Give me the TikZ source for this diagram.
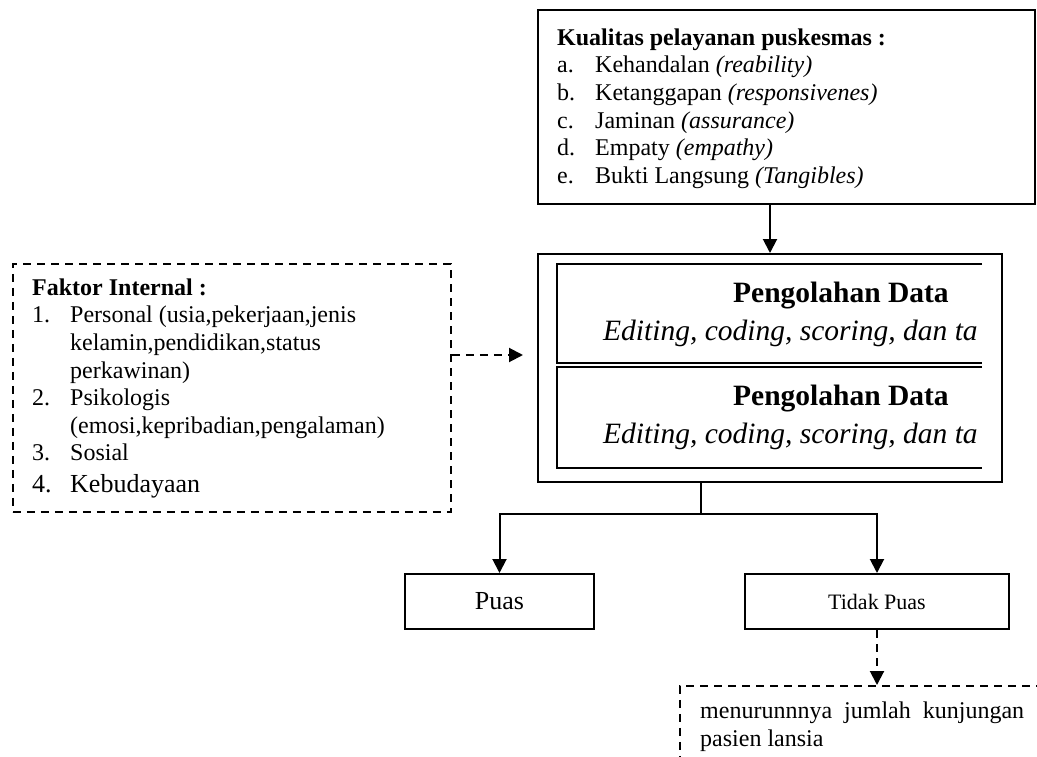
\documentclass[tikz,border=0pt]{standalone}
\usepackage{fontspec}
\setmainfont{Liberation Serif}
\usetikzlibrary{arrows.meta,calc}
\tikzset{
  boxsolid/.style={draw, line width=2pt, rectangle, inner sep=0pt},
  boxdash/.style={draw, line width=1.8pt, dash pattern=on 8pt off 6pt, rectangle, inner sep=0pt},
  inbox/.style={line width=1.3pt},
  conn/.style={line width=2pt, -{Triangle[length=14pt,width=14pt]}},
  dconn/.style={conn, dash pattern=on 8pt off 6pt},
  listtxt/.style={inner sep=0pt, anchor=north west, font=\fontsize{24}{27.6}\selectfont},
  bigtxt/.style={inner sep=0pt, anchor=base west, font=\fontsize{29.5}{34}\selectfont},
}
\newcommand{\itm}[1]{\makebox[38pt][l]{#1}}
\newcommand{\hang}{\hspace*{38pt}}
\begin{document}
\begin{tikzpicture}[x=1pt,y=-1pt]
\clip (0,0) rectangle (1037,757);
\fill[white] (0,0) rectangle (1037,757);

% boxes
\node[boxsolid, anchor=north west, minimum width=497, minimum height=194] (qual) at (537,9) {};
\node[boxsolid, anchor=north west, minimum width=464, minimum height=228] (proc) at (537,253) {};
\node[boxdash, anchor=north west, minimum width=438, minimum height=248] (faktor) at (12,263) {};
\node[boxsolid, minimum width=189, minimum height=55, font=\fontsize{26}{30}\selectfont] (puas) at (499.5,601.5) {Puas};
\node[boxsolid, minimum width=264, minimum height=55, font=\fontsize{22}{26}\selectfont] (tidak) at (877,601.5) {Tidak Puas};
\node[boxdash, anchor=north west, minimum width=420, minimum height=140] (hasil) at (679,685) {};

% inner boxes of processing
\draw[inbox] (982,264) -- (557,264) -- (557,363) -- (982,363);
\draw[inbox] (982,367) -- (557,367) -- (557,468) -- (982,468);

% texts
\node[listtxt] (qualtxt) at (557,25.7) {\begin{tabular}{@{}l@{}}
\textbf{Kualitas pelayanan puskesmas :}\\
\itm{a.}Kehandalan \textit{(reability)}\\
\itm{b.}Ketanggapan \textit{(responsivenes)}\\
\itm{c.}Jaminan \textit{(assurance)}\\
\itm{d.}Empaty \textit{(empathy)}\\
\itm{e.}Bukti Langsung \textit{(Tangibles)}
\end{tabular}};

\node[listtxt] (faktortxt) at (32,275.7) {\begin{tabular}{@{}l@{}}
\textbf{Faktor Internal :}\\
\itm{1.}Personal (usia,pekerjaan,jenis\\
\hang kelamin,pendidikan,status\\
\hang perkawinan)\\
\itm{2.}Psikologis\\
\hang (emosi,kepribadian,pengalaman)\\
\itm{3.}Sosial\\[4pt]
{\fontsize{26}{27.6}\selectfont\itm{4.}Kebudayaan}
\end{tabular}};

\node[bigtxt] (pd1) at (733,302) {\textbf{Pengolahan Data}};
\node[bigtxt] (ed1) at (603,340) {\textit{Editing, coding, scoring, dan ta}};
\node[bigtxt] (pd2) at (733,405) {\textbf{Pengolahan Data}};
\node[bigtxt] (ed2) at (603,443) {\textit{Editing, coding, scoring, dan ta}};

\node[listtxt] (hasiltxt) at (700,699) {\begin{tabular}{@{}l@{}}
menurunnnya\ \ jumlah\ \ kunjungan\\
pasien lansia
\end{tabular}};

% connectors
\draw[conn] (qual.south -| proc.north) -- (proc.north);
\draw[dconn, shorten >=14pt] ([yshift=-92pt]faktor.north east) -- ([yshift=-102pt]proc.north west);
\draw[line width=1.6pt] ([xshift=-69pt]proc.south) -- ++(0,31) coordinate (split);
\draw[conn] (split) -| (puas.north);
\draw[conn] (split) -| (tidak.north);
\draw[dconn] (tidak.south) -- (tidak.south |- hasil.north);
\end{tikzpicture}
\end{document}
